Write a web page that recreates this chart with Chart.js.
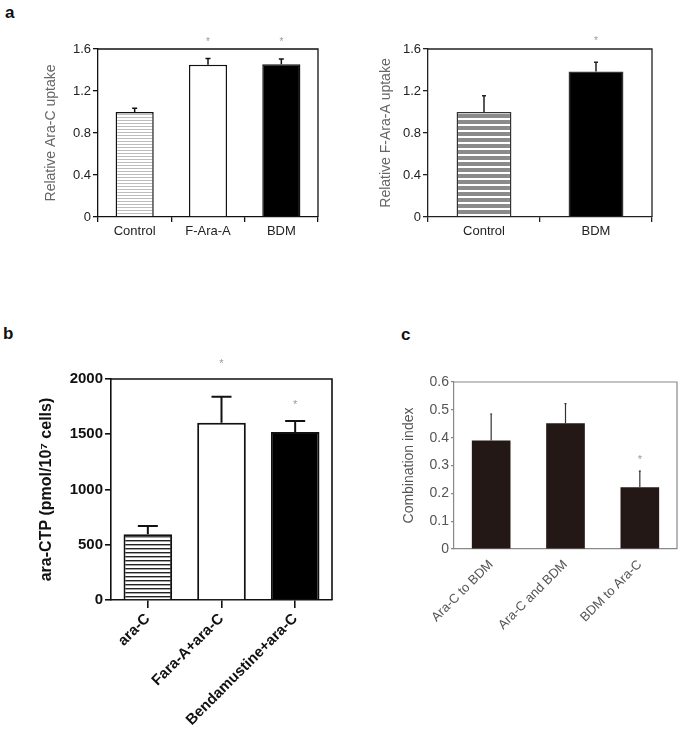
<!DOCTYPE html>
<html>
<head>
<meta charset="utf-8">
<script src="https://cdn.jsdelivr.net/npm/chart.js@4.4.0/dist/chart.umd.min.js"></script>
<style>
  body { margin: 0; background: #fff; width: 683px; height: 745px; position: relative; overflow: hidden; font-family: "Liberation Sans", Arial, sans-serif; }
  .panel { position: absolute; }
  .tag { position: absolute; font-weight: bold; font-size: 17px; color: #111; }
</style>
</head>
<body>
<div class="tag" style="left:5px;top:3px">a</div>
<div class="tag" style="left:3px;top:324px">b</div>
<div class="tag" style="left:401px;top:325px">c</div>

<div class="panel" style="left:0;top:30px"><canvas id="a1" width="322" height="230"></canvas></div>
<div class="panel" style="left:340px;top:30px"><canvas id="a2" width="317" height="230"></canvas></div>
<div class="panel" style="left:0;top:340px"><canvas id="b" width="340" height="405"></canvas></div>
<div class="panel" style="left:370px;top:340px"><canvas id="c" width="313" height="405"></canvas></div>

<script>
// panel a, left
const uptakeLabels = ['Control', 'F-Ara-A', 'BDM'];
const araCUptake = [1.0, 1.45, 1.455];
const araCUptakeErr = [0.035, 0.06, 0.05];
const araCUptakeStars = [null, 1.69, 1.69];

// panel a, right
const faraLabels = ['Control', 'BDM'];
const faraUptake = [1.0, 1.385];
const faraUptakeErr = [0.155, 0.09];
const faraUptakeStars = [null, 1.7];

// panel b
const ctpLabels = ['ara-C', 'Fara-A+ara-C', 'Bendamustine+ara-C'];
const araCTP = [595, 1605, 1520];
const araCTPErr = [75, 235, 100];
const araCTPStars = [null, 2165, 1790];

// panel c
const ciLabels = ['Ara-C to BDM', 'Ara-C and BDM', 'BDM to Ara-C'];
const combIndex = [0.39, 0.452, 0.222];
const combIndexErr = [0.095, 0.07, 0.058];
const combIndexStars = [null, null, 0.33];

const FONT = '"Liberation Sans", Arial, sans-serif';

function stripes(period, lineH, lineColor, bg) {
  const c = document.createElement('canvas');
  c.width = 8; c.height = period;
  const g = c.getContext('2d');
  g.fillStyle = bg; g.fillRect(0, 0, 8, period);
  g.fillStyle = lineColor; g.fillRect(0, 0, 8, lineH);
  return g.createPattern(c, 'repeat');
}

// error bars, asterisks and the top/right frame
const errorBars = {
  id: 'errorBars',
  afterDatasetsDraw(chart, args, opts) {
    const ctx = chart.ctx;
    const y = chart.scales.y;
    const bars = chart.getDatasetMeta(0).data;
    const vals = chart.data.datasets[0].data;
    ctx.save();
    ctx.strokeStyle = opts.color;
    ctx.lineWidth = opts.lineWidth;
    bars.forEach((bar, i) => {
      const top = y.getPixelForValue(vals[i]);
      const end = y.getPixelForValue(vals[i] + opts.errors[i]);
      ctx.beginPath();
      ctx.moveTo(bar.x, top);
      ctx.lineTo(bar.x, end);
      ctx.moveTo(bar.x - opts.cap, end);
      ctx.lineTo(bar.x + opts.cap, end);
      ctx.stroke();
      if (opts.stars[i] != null) {
        ctx.fillStyle = opts.starColor;
        ctx.font = opts.starFont;
        ctx.textAlign = 'center';
        ctx.textBaseline = 'middle';
        ctx.fillText('*', bar.x, y.getPixelForValue(opts.stars[i]) + 3);
      }
    });
    const a = chart.chartArea;
    ctx.strokeStyle = opts.frameColor;
    ctx.lineWidth = opts.frameWidth;
    ctx.beginPath();
    ctx.moveTo(a.left, a.top);
    ctx.lineTo(a.right, a.top);
    ctx.lineTo(a.right, a.bottom);
    ctx.stroke();
    ctx.restore();
  }
};

function barChart(id, p) {
  return new Chart(document.getElementById(id), {
    type: 'bar',
    data: {
      labels: p.labels,
      datasets: [{
        data: p.values,
        backgroundColor: p.colors,
        borderColor: p.borderColors,
        borderWidth: p.borderWidth,
        barPercentage: p.barPct,
        categoryPercentage: 1
      }]
    },
    plugins: [errorBars],
    options: {
      responsive: false,
      animation: false,
      layout: { padding: p.padding },
      plugins: {
        legend: { display: false },
        tooltip: { enabled: false },
        errorBars: {
          errors: p.errors, stars: p.stars, color: p.errColor, lineWidth: p.errWidth, cap: p.cap,
          starColor: '#999', starFont: p.starFont,
          frameColor: p.axisColor, frameWidth: p.axisWidth
        }
      },
      scales: {
        x: {
          afterFit: s => { s.height = p.xHeight; },
          grid: { offset: p.xTickOffset, drawOnChartArea: false, display: p.xTicks, tickLength: p.xTickLen, color: p.axisColor, lineWidth: p.axisWidth },
          border: { color: p.axisColor, width: p.axisWidth },
          ticks: { color: p.textColor, font: p.xFont, minRotation: p.rotation, maxRotation: p.rotation, padding: p.xPad }
        },
        y: {
          min: p.min, max: p.max,
          afterFit: s => { s.width = p.yWidth; },
          grid: { drawOnChartArea: false, tickLength: p.yTickLen, color: p.axisColor, lineWidth: p.axisWidth },
          border: { color: p.axisColor, width: p.axisWidth },
          ticks: { stepSize: p.step, color: p.textColor, font: p.yFont, padding: 2, callback: p.fmt },
          title: { display: true, text: p.title, color: p.titleColor, font: p.titleFont, padding: { top: p.titlePad, bottom: 0 } }
        }
      }
    }
  });
}

const oneDecimal = v => v === 0 ? '0' : v.toFixed(1);

barChart('a1', {
  labels: uptakeLabels, values: araCUptake, errors: araCUptakeErr, stars: araCUptakeStars,
  colors: [stripes(3, 1, '#bdbdbd', '#fff'), '#fff', '#000'], borderColors: '#111', borderWidth: 1.5,
  barPct: 0.52, padding: { top: 19, right: 4, left: 0, bottom: 0 }, xHeight: 43, yWidth: 98,
  xTickOffset: true, xTicks: true, xTickLen: 5, xPad: 2, rotation: 0,
  yTickLen: 5, min: 0, max: 1.6, step: 0.4, fmt: oneDecimal,
  errColor: '#111', errWidth: 1.5, cap: 2.5, starFont: '10px ' + FONT,
  axisColor: '#111', axisWidth: 1.3, textColor: '#222',
  xFont: { family: FONT, size: 13 }, yFont: { family: FONT, size: 13 },
  title: 'Relative Ara-C uptake', titleColor: '#666', titleFont: { family: FONT, size: 14 }, titlePad: 43
});

barChart('a2', {
  labels: faraLabels, values: faraUptake, errors: faraUptakeErr, stars: faraUptakeStars,
  colors: [stripes(6, 4, '#8a8a8a', '#fff'), '#000'], borderColors: '#333', borderWidth: 1.5,
  barPct: 0.49, padding: { top: 19, right: 5, left: 0, bottom: 0 }, xHeight: 43, yWidth: 88,
  xTickOffset: true, xTicks: true, xTickLen: 5, xPad: 2, rotation: 0,
  yTickLen: 5, min: 0, max: 1.6, step: 0.4, fmt: oneDecimal,
  errColor: '#222', errWidth: 1.5, cap: 2, starFont: '10px ' + FONT,
  axisColor: '#222', axisWidth: 1.3, textColor: '#222',
  xFont: { family: FONT, size: 13 }, yFont: { family: FONT, size: 13 },
  title: 'Relative F-Ara-A uptake', titleColor: '#666', titleFont: { family: FONT, size: 14 }, titlePad: 38
});

barChart('b', {
  labels: ctpLabels, values: araCTP, errors: araCTPErr, stars: araCTPStars,
  colors: [stripes(4.3, 1.4, '#222', '#fff'), '#fff', '#000'], borderColors: '#111', borderWidth: 2,
  barPct: 0.66, padding: { top: 39, right: 8, left: 0, bottom: 0 }, xHeight: 145, yWidth: 111,
  xTickOffset: false, xTicks: true, xTickLen: 8, xPad: 2, rotation: 45,
  yTickLen: 6, min: 0, max: 2000, step: 500, fmt: v => v,
  errColor: '#111', errWidth: 2, cap: 10, starFont: '11px ' + FONT,
  axisColor: '#111', axisWidth: 1.6, textColor: '#111',
  xFont: { family: FONT, size: 15, weight: 'bold' }, yFont: { family: FONT, size: 15, weight: 'bold' },
  title: 'ara-CTP (pmol/10\u2077 cells)', titleColor: '#111', titleFont: { family: FONT, size: 16, weight: 'bold' }, titlePad: 37
});

barChart('c', {
  labels: ciLabels, values: combIndex, errors: combIndexErr, stars: combIndexStars,
  colors: '#231815', borderColors: '#231815', borderWidth: 0,
  barPct: 0.52, padding: { top: 42, right: 6, left: 0, bottom: 0 }, xHeight: 196, yWidth: 84,
  xTickOffset: false, xTicks: false, xTickLen: 0, xPad: 8, rotation: 45,
  yTickLen: 3, min: 0, max: 0.6, step: 0.1, fmt: oneDecimal,
  errColor: '#333', errWidth: 1.2, cap: 1, starFont: '11px ' + FONT,
  axisColor: '#888', axisWidth: 1.2, textColor: '#555',
  xFont: { family: FONT, size: 13 }, yFont: { family: FONT, size: 14 },
  title: 'Combination index', titleColor: '#555', titleFont: { family: FONT, size: 14 }, titlePad: 31
});
</script>
</body>
</html>
